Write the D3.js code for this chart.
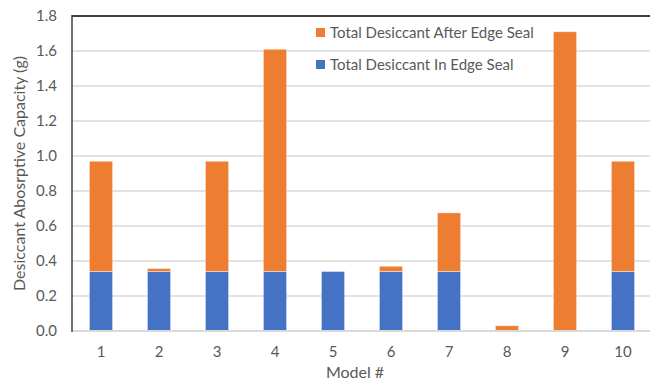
<!DOCTYPE html>
<html>
<head>
<meta charset="utf-8">
<script src="https://cdn.jsdelivr.net/npm/d3@7"></script>
<style>
  html, body { margin: 0; padding: 0; background: #fff; }
  svg { display: block; font-family: Lato, "Open Sans", sans-serif; }
</style>
</head>
<body>
<svg id="chart" width="650" height="380"></svg>
<script>
// Model numbers along the x axis
const models = ["1", "2", "3", "4", "5", "6", "7", "8", "9", "10"];
// Desiccant held in the edge seal (g)
const inEdgeSeal = [0.34, 0.34, 0.34, 0.34, 0.34, 0.34, 0.34, 0, 0, 0.34];
// Additional desiccant placed after the edge seal (g), stacked on top
const afterEdgeSeal = [0.63, 0.017, 0.63, 1.27, 0, 0.03, 0.335, 0.03, 1.71, 0.63];
// Value axis ticks
const yTicks = [0, 0.2, 0.4, 0.6, 0.8, 1.0, 1.2, 1.4, 1.6, 1.8];

const seriesNames = ["Total Desiccant After Edge Seal", "Total Desiccant In Edge Seal"];
const colors = { inSeal: "#4472C4", after: "#ED7D31" };

const svg = d3.select("#chart");
const W = 650, H = 380;
const plot = { left: 72, right: 652, top: 16, bottom: 331 };

const x = d3.scaleBand().domain(models)
  .range([plot.left, plot.right]).paddingInner(0.6).paddingOuter(0.3);
const y = d3.scaleLinear().domain([0, 1.8]).range([plot.bottom, plot.top]);

// Gridlines
svg.append("g").selectAll("line").data(yTicks.slice(1, -1)).join("line")
  .attr("x1", plot.left).attr("x2", plot.right)
  .attr("y1", d => y(d)).attr("y2", d => y(d))
  .attr("stroke", "#d9d9d9").attr("stroke-width", 1.5);

// Stacked bars
const rows = models.map((m, i) => ({ model: m, inSeal: inEdgeSeal[i], after: afterEdgeSeal[i] }));
const stack = d3.stack().keys(["inSeal", "after"])(rows);
svg.append("g").selectAll("g").data(stack).join("g")
  .attr("fill", s => colors[s.key])
  .selectAll("rect").data(s => s.filter(d => d[1] - d[0] > 0)).join("rect")
  .attr("x", d => x(d.data.model))
  .attr("width", x.bandwidth())
  .attr("y", d => y(d[1]))
  .attr("height", d => y(d[0]) - y(d[1]))
  .attr("stroke", "#ffffff").attr("stroke-opacity", 0.5).attr("stroke-width", 0.8);

// Bottom axis line (light) and top/left frame lines (dark)
svg.append("line").attr("x1", plot.left).attr("x2", plot.right)
  .attr("y1", y(0)).attr("y2", y(0)).attr("stroke", "#d9d9d9").attr("stroke-width", 2);
svg.append("line").attr("x1", plot.left).attr("x2", plot.right)
  .attr("y1", y(1.8)).attr("y2", y(1.8)).attr("stroke", "#404040").attr("stroke-width", 2);
svg.append("line").attr("x1", plot.left).attr("x2", plot.left)
  .attr("y1", y(1.8) - 1).attr("y2", y(0) + 1).attr("stroke", "#404040").attr("stroke-width", 1.5);

// Y axis tick labels
const yAxis = d3.axisLeft(y).tickValues(yTicks).tickFormat(d3.format(".1f")).tickSize(0).tickPadding(15);
const gy = svg.append("g").attr("transform", `translate(${plot.left},0)`).call(yAxis);
gy.select(".domain").remove();
gy.selectAll("text").attr("fill", "#595959").attr("font-size", 15).style("font-family", "Lato, 'Open Sans', sans-serif");

// X axis tick labels
const xAxis = d3.axisBottom(x).tickSize(0).tickPadding(15);
const gx = svg.append("g").attr("transform", `translate(0,${y(0)})`).call(xAxis);
gx.select(".domain").remove();
gx.selectAll("text").attr("fill", "#595959").attr("font-size", 15).style("font-family", "Lato, 'Open Sans', sans-serif");

// Axis titles
svg.append("text").attr("x", 355).attr("y", 378)
  .attr("text-anchor", "middle").attr("fill", "#595959").attr("font-size", 16).text("Model #");
svg.append("text")
  .attr("transform", `translate(25,${(y(0) + y(1.8)) / 2}) rotate(-90)`)
  .attr("text-anchor", "middle").attr("fill", "#595959").attr("font-size", 16)
  .text("Desiccant Abosrptive Capacity (g)");

// Legend
const legend = svg.append("g").attr("transform", "translate(316,28)");
const legendItems = [
  { name: seriesNames[0], color: colors.after },
  { name: seriesNames[1], color: colors.inSeal }
];
const li = legend.selectAll("g").data(legendItems).join("g")
  .attr("transform", (d, i) => `translate(0,${i * 32})`);
li.append("rect").attr("width", 9).attr("height", 9).attr("fill", d => d.color);
li.append("text").attr("x", 14).attr("y", 9.5).attr("fill", "#595959").attr("font-size", 15)
  .text(d => d.name);
</script>
</body>
</html>
